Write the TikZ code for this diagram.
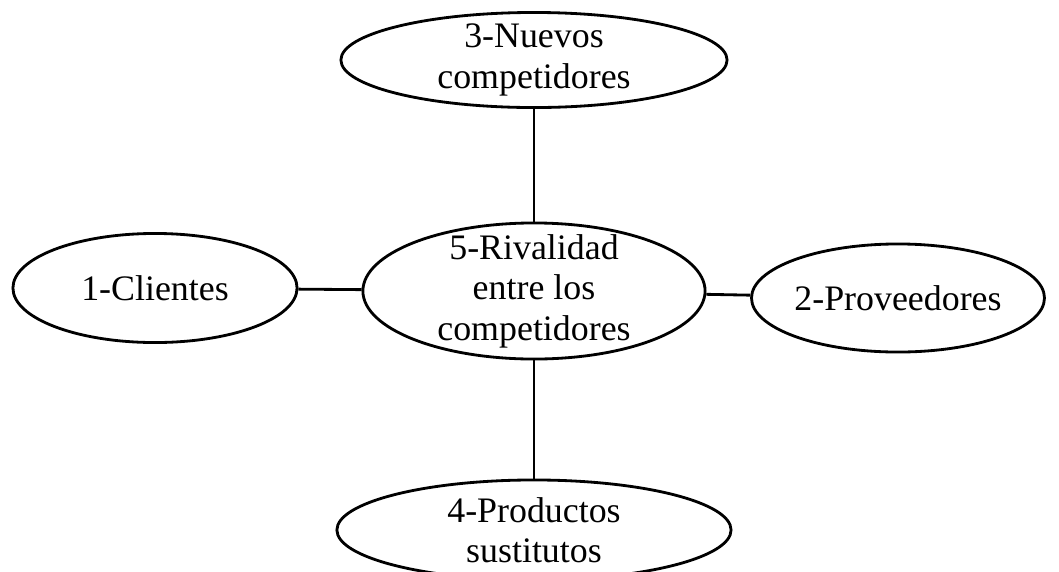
\documentclass[tikz,border=0pt]{standalone}
\usepackage{fontspec}
\setmainfont{Liberation Serif}
\usetikzlibrary{shapes.geometric}
\begin{document}
\begin{tikzpicture}[x=0.01cm, y=-0.01cm, line width=0.8pt, force node/.style={ellipse,draw,inner xsep=0pt,inner ysep=-1mm,align=center,font=\fontsize{10.2}{11.5}\selectfont}]%pixel grid
\useasboundingbox (0,0) rectangle (1059,572);
\begin{scope}
\node[force node, minimum width=2.84cm, minimum height=1.09cm] (f1) at (155,288) {1-Clientes};
\node[force node, minimum width=2.87cm, minimum height=1.08cm] (f2) at (898,298) {2-Proveedores};
\node[force node, minimum width=3.86cm, minimum height=0.95cm] (f3) at (534,60) {3-Nuevos\\competidores};
\node[force node, minimum width=3.94cm, minimum height=1.00cm] (f4) at (534,530) {4-Productos\\sustitutos};
\node[force node, minimum width=3.42cm, minimum height=1.36cm] (f5) at (534,291) {5-Rivalidad\\entre los\\competidores};
\end{scope}
\begin{scope}
\draw  (f5) edge node{} (f1);
\draw  (f5) edge node{} (f2);
\draw  (f5) edge node{} (f3);
\draw  (f5) edge node{} (f4);
\end{scope}
\end{tikzpicture}
\end{document}
